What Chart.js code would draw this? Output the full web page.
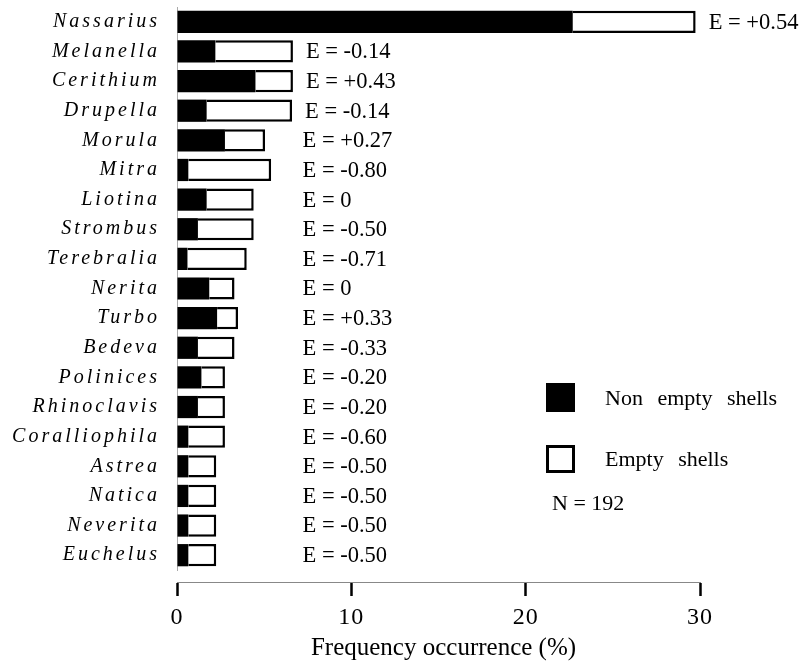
<!DOCTYPE html>
<html>
<head>
<meta charset="utf-8">
<script src="https://cdn.jsdelivr.net/npm/chart.js@4/dist/chart.umd.min.js"></script>
<style>
  html, body { margin: 0; padding: 0; background: #fff; }
  #wrap { width: 807px; height: 669px; position: relative; }
</style>
</head>
<body>
<div id="wrap"><canvas id="chart"></canvas></div>
<script>
const species = ['Nassarius', 'Melanella', 'Cerithium', 'Drupella', 'Morula', 'Mitra', 'Liotina', 'Strombus', 'Terebralia',
  'Nerita', 'Turbo', 'Bedeva', 'Polinices', 'Rhinoclavis', 'Coralliophila', 'Astrea', 'Natica', 'Neverita', 'Euchelus'];
const nonEmptyShells = [22.7, 2.2, 4.5, 1.7, 2.75, 0.65, 1.7, 1.2, 0.6, 1.85, 2.3, 1.2, 1.4, 1.2, 0.65, 0.65, 0.65, 0.65, 0.65];
const emptyShells = [7.05, 4.45, 2.15, 4.9, 2.3, 4.75, 2.7, 3.2, 3.4, 1.45, 1.2, 2.1, 1.35, 1.55, 2.1, 1.6, 1.6, 1.6, 1.6];
const electivity = ['+0.54', '-0.14', '+0.43', '-0.14', '+0.27', '-0.80', '0', '-0.50', '-0.71', '0', '+0.33', '-0.33',
  '-0.20', '-0.20', '-0.60', '-0.50', '-0.50', '-0.50', '-0.50'];
const xTicks = [0, 10, 20, 30];
const sampleSize = 192;

const serif = "'Liberation Serif', 'Times New Roman', serif";

// spacing for the axis labels is set on the context; E labels, legend and title go without it
const annotations = {
  id: 'annotations',
  beforeDraw(chart) {
    chart.ctx.letterSpacing = '3px';
  },
  afterDatasetsDraw(chart) {
    const { ctx, scales } = chart;
    const bars = chart.getDatasetMeta(1).data;
    const column = scales.x.getPixelForValue(7.2);
    ctx.save();
    ctx.letterSpacing = '0px';
    ctx.fillStyle = '#000';
    ctx.font = `22.5px ${serif}`;
    ctx.textAlign = 'left';
    ctx.textBaseline = 'middle';
    electivity.forEach((e, i) => {
      const x = Math.max(column, bars[i].x + 13);
      ctx.fillText(`E = ${e}`, x, scales.y.getPixelForValue(i) + 1);
    });
    ctx.restore();
    ctx.letterSpacing = '1px';
  },
  afterDraw(chart) {
    const { ctx, chartArea } = chart;
    const ds = chart.data.datasets;
    ctx.save();
    ctx.letterSpacing = '0px';
    ctx.fillStyle = '#000';
    ctx.textAlign = 'center';
    ctx.textBaseline = 'alphabetic';
    ctx.font = `25px ${serif}`;
    ctx.fillText('Frequency occurrence (%)', (chartArea.left + chartArea.right) / 2 + 5, 655);

    // legend
    ctx.fillStyle = ds[0].backgroundColor;
    ctx.fillRect(546, 383, 29, 29);
    ctx.fillStyle = ds[1].backgroundColor;
    ctx.fillRect(546, 445, 29, 28);
    ctx.strokeStyle = ds[1].borderColor;
    ctx.lineWidth = 3;
    ctx.strokeRect(547.5, 446.5, 26, 25);
    ctx.fillStyle = '#000';
    ctx.textAlign = 'left';
    ctx.font = `22px ${serif}`;
    ctx.wordSpacing = '9px';
    ctx.fillText(ds[0].label, 605, 405);
    ctx.fillText(ds[1].label, 605, 466);
    ctx.wordSpacing = '0px';
    ctx.fillText(`N = ${sampleSize}`, 552, 510);
    ctx.restore();
  },
};

new Chart(document.getElementById('chart').getContext('2d'), {
  type: 'bar',
  plugins: [annotations],
  data: {
    labels: species,
    datasets: [
      {
        label: 'Non empty shells',
        data: nonEmptyShells,
        backgroundColor: '#000',
        borderWidth: 0,
        barPercentage: 0.75,
        categoryPercentage: 1,
      },
      {
        label: 'Empty shells',
        data: emptyShells,
        backgroundColor: '#fff',
        borderColor: '#000',
        borderWidth: 2.5,
        borderSkipped: 'start',
        barPercentage: 0.75,
        categoryPercentage: 1,
      },
    ],
  },
  options: {
    indexAxis: 'y',
    responsive: true,
    maintainAspectRatio: false,
    animation: false,
    layout: { padding: { left: 0, right: 107, top: 7, bottom: 99 } },
    scales: {
      x: {
        type: 'linear',
        stacked: true,
        min: 0,
        max: 30,
        position: { y: 18.91 },
        afterBuildTicks: (scale) => { scale.ticks = xTicks.map(v => ({ value: v })); },
        grid: { display: true, drawOnChartArea: false, drawTicks: true, tickLength: 13, tickWidth: 2.5, tickColor: '#000' },
        border: { display: true, color: '#888', width: 1 },
        ticks: {
          z: 1,
          padding: 8,
          color: '#000',
          font: { family: serif, size: 24 },
          maxRotation: 0,
        },
      },
      y: {
        stacked: true,
        afterFit: (scale) => {
          scale.width = 177;
          scale.paddingTop = 0;
          scale.paddingBottom = 0;
        },
        grid: { display: false, drawTicks: false },
        border: { display: true, color: '#aaa', width: 1 },
        ticks: {
          padding: 17,
          color: '#000',
          autoSkip: false,
          font: { family: serif, size: 20, style: 'italic' },
        },
      },
    },
    plugins: {
      legend: { display: false },
      tooltip: { enabled: false },
    },
  },
});
</script>
</body>
</html>
